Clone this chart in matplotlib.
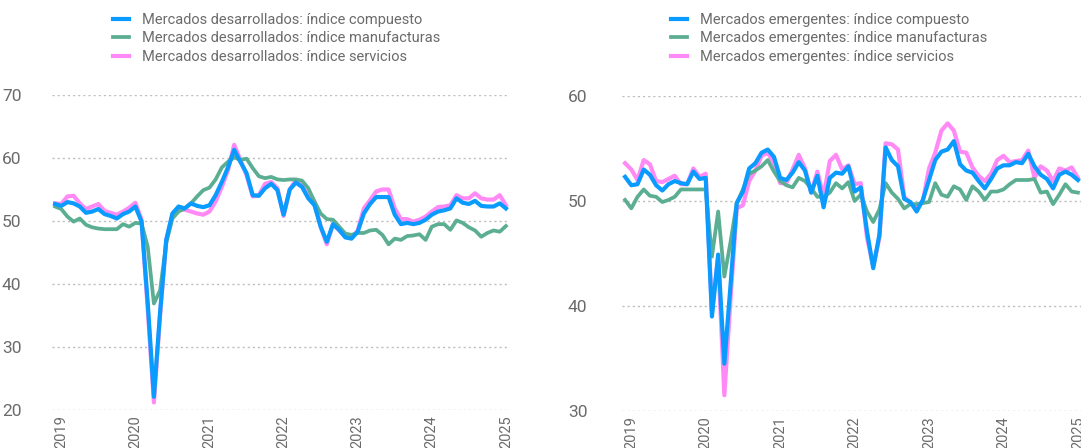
import matplotlib
matplotlib.use('Agg')
import matplotlib.pyplot as plt
import numpy as np

# monthly values, Dec 2018 .. Jan 2025
years = ['2019', '2020', '2021', '2022', '2023', '2024', '2025']

dm_composite = [52.7, 52.4, 53.0, 52.8, 52.3, 51.3, 51.5, 51.9, 51.1, 50.8, 50.4, 51.1, 51.5,
                52.3, 49.9, 37.0, 22.1, 35.5, 47.0, 51.2, 52.3, 52.0, 52.8, 52.4, 52.2,
                52.5, 54.1, 56.2, 58.5, 61.3, 59.4, 57.6, 54.1, 54.0, 55.2, 55.9, 54.9,
                51.0, 55.0, 56.1, 55.4, 53.6, 52.5, 49.1, 46.7, 49.5, 48.6, 47.4, 47.2,
                48.3, 51.2, 52.7, 53.8, 53.8, 53.8, 51.0, 49.5, 49.7, 49.5, 49.7, 50.2,
                51.0, 51.5, 51.7, 52.0, 53.6, 52.9, 52.7, 53.2, 52.4, 52.3, 52.3, 52.8,
                52.0]
dm_manuf = [52.3, 51.9, 50.7, 49.9, 50.4, 49.4, 49.0, 48.8, 48.7, 48.7, 48.7, 49.5, 49.1,
            49.7, 49.6, 45.9, 36.9, 39.0, 46.5, 50.4, 51.5, 52.0, 52.8, 53.9, 54.9,
            55.3, 56.6, 58.5, 59.4, 60.1, 59.7, 59.9, 58.4, 57.1, 56.8, 57.0, 56.6,
            56.5, 56.6, 56.6, 56.4, 55.2, 53.1, 51.2, 50.3, 50.2, 49.1, 48.0, 47.8,
            48.1, 48.1, 48.5, 48.6, 47.8, 46.3, 47.2, 47.0, 47.6, 47.7, 47.9, 47.0,
            49.1, 49.5, 49.5, 48.6, 50.1, 49.7, 49.0, 48.5, 47.5, 48.1, 48.5, 48.3,
            49.2]
dm_services = [52.8, 52.7, 53.9, 54.0, 52.8, 51.9, 52.3, 52.7, 51.6, 51.3, 51.0, 51.5, 52.1,
               52.9, 50.2, 36.0, 21.2, 35.0, 47.0, 51.0, 51.8, 51.8, 51.5, 51.2, 51.0,
               51.5, 53.1, 55.4, 58.1, 62.1, 59.7, 57.3, 53.9, 54.1, 55.9, 56.2, 55.2,
               50.8, 55.0, 56.5, 55.6, 53.9, 53.1, 49.1, 46.3, 49.5, 48.5, 47.5, 47.3,
               48.5, 52.0, 53.3, 54.7, 55.0, 55.0, 52.0, 50.3, 50.3, 49.9, 50.2, 50.7,
               51.5, 52.2, 52.3, 52.5, 54.1, 53.6, 53.6, 54.4, 53.6, 53.4, 53.4, 54.1,
               52.5]

em_composite = [52.3, 51.5, 51.6, 53.0, 52.5, 51.5, 51.0, 51.6, 51.9, 51.7, 51.6, 52.8, 52.1,
                52.2, 39.0, 44.9, 34.5, 42.0, 49.8, 50.9, 53.1, 53.6, 54.6, 54.9, 54.2,
                52.2, 52.0, 52.7, 53.7, 52.9, 50.8, 52.4, 49.4, 52.2, 52.7, 52.6, 53.3,
                50.9, 51.3, 47.1, 43.6, 46.8, 55.1, 53.9, 53.3, 50.2, 49.9, 49.0, 50.1,
                52.0, 53.9, 54.7, 54.9, 55.7, 53.5, 52.9, 52.7, 51.9, 51.2, 52.1, 53.1,
                53.4, 53.4, 53.7, 53.6, 54.5, 53.3, 52.5, 52.1, 51.2, 52.5, 52.8, 52.5,
                52.0]
em_manuf = [50.1, 49.3, 50.4, 51.1, 50.5, 50.4, 49.9, 50.1, 50.4, 51.1, 51.1, 51.1, 51.1,
            51.1, 44.7, 49.0, 42.8, 46.1, 49.8, 51.1, 52.6, 52.9, 53.3, 53.9, 52.8,
            51.9, 51.5, 51.3, 52.2, 51.9, 51.2, 50.4, 50.4, 50.8, 51.7, 51.2, 51.8,
            50.0, 50.6, 49.0, 48.0, 49.2, 51.7, 50.8, 50.2, 49.3, 49.7, 49.7, 49.8,
            49.9, 51.7, 50.6, 50.4, 51.4, 51.1, 50.1, 51.4, 50.9, 50.1, 50.9, 50.9,
            51.1, 51.6, 52.0, 52.0, 52.0, 52.1, 50.8, 50.9, 49.7, 50.6, 51.6, 50.9,
            50.8]
em_services = [53.6, 53.0, 52.0, 53.9, 53.5, 51.9, 51.8, 52.1, 52.4, 51.6, 51.6, 53.1, 52.3,
               52.6, 39.5, 44.6, 31.5, 40.7, 49.3, 49.6, 51.9, 52.9, 54.3, 54.6, 53.6,
               51.7, 51.7, 53.0, 54.4, 53.1, 50.8, 52.8, 50.4, 53.8, 54.4, 53.0, 53.4,
               51.6, 51.7, 46.5, 43.8, 46.5, 55.5, 55.4, 54.9, 50.4, 49.8, 49.3, 50.0,
               53.1, 54.6, 56.7, 57.4, 56.7, 54.7, 54.6, 53.2, 52.4, 51.9, 52.6, 53.9,
               54.3, 53.7, 53.8, 53.9, 54.8, 52.2, 53.3, 52.9, 51.9, 53.1, 52.9, 53.2,
               52.2]

BLUE = '#0a9bff'
GREEN = '#5bae92'
PINK = '#ff8af6'
GREY = '#6b6b6b'

plt.rcParams['font.family'] = ['Roboto', 'DejaVu Sans']

fig = plt.figure(figsize=(10.81, 4.48), dpi=100)
ax1 = fig.add_axes([52 / 1081, 38 / 448, 457 / 1081, 315 / 448])
ax2 = fig.add_axes([622 / 1081, 37 / 448, 459 / 1081, 315 / 448])


def draw(ax, comp, manuf, serv, region, ylim, yticks, pad):
    x = np.arange(len(comp))
    ax.plot(x, serv, color=PINK, lw=3.0, label=region + ': índice servicios', zorder=3)
    ax.plot(x, manuf, color=GREEN, lw=2.7, label=region + ': índice manufacturas', zorder=4)
    ax.plot(x, comp, color=BLUE, lw=3.0, label=region + ': índice compuesto', zorder=5)
    ax.set_xlim(-0.5, len(comp) - 0.5)
    ax.set_ylim(*ylim)
    ax.set_yticks(yticks)
    ax.set_yticklabels([str(t) for t in yticks])
    ax.set_xticks([1 + 12 * i for i in range(len(years))])
    ax.set_xticklabels(years, rotation=90, va='top', ha='center')
    for t in yticks:
        ax.axhline(t, color='#bdbdbd', lw=1.0, ls=(0, (1.5, 2.2)), zorder=1)
    for s in ax.spines.values():
        s.set_visible(False)
    ax.tick_params(axis='y', length=0, pad=pad, labelsize=12.5, labelcolor=GREY)
    ax.tick_params(axis='x', length=0, pad=4, labelsize=10.5, labelcolor=GREY)


draw(ax1, dm_composite, dm_manuf, dm_services, 'Mercados desarrollados',
     (20, 70), [20, 30, 40, 50, 60, 70], 22)
draw(ax2, em_composite, em_manuf, em_services, 'Mercados emergentes',
     (30, 60), [30, 40, 50, 60], 25)

for ax, xpos in [(ax1, 113 / 1081), (ax2, 671 / 1081)]:
    h, l = ax.get_legend_handles_labels()
    order = [2, 1, 0]
    leg = fig.legend([h[i] for i in order], [l[i] for i in order], loc='upper left',
                     bbox_to_anchor=(xpos, 1 - 13 / 448), frameon=False, fontsize=10.5,
                     handlelength=1.1, handletextpad=0.9, labelspacing=0.3,
                     borderpad=0, borderaxespad=0)
    for t in leg.get_texts():
        t.set_color(GREY)

fig.savefig('out.png', dpi=100)
